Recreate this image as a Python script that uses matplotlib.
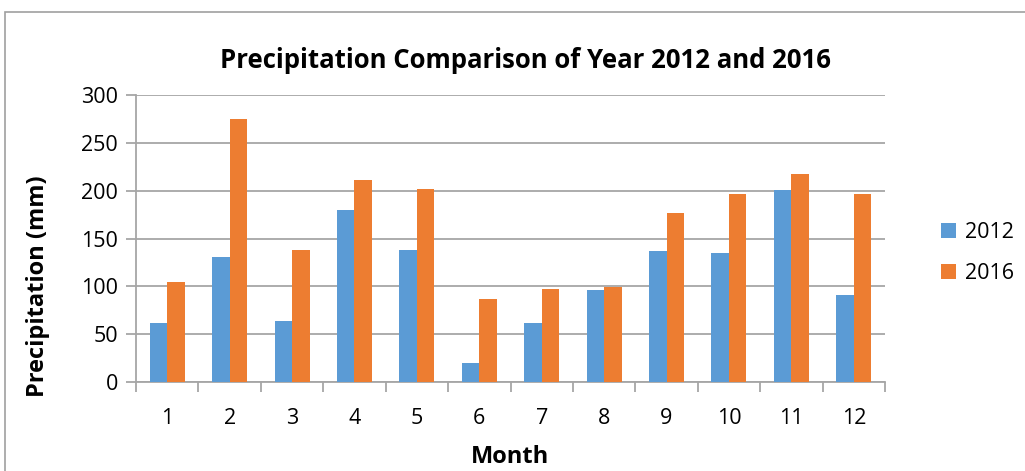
import matplotlib.pyplot as plt
import numpy as np
from matplotlib.patches import Rectangle

months = ['1', '2', '3', '4', '5', '6', '7', '8', '9', '10', '11', '12']
rain_2012 = [62, 131, 64, 180, 138, 20, 62, 96, 137, 135, 201, 91]
rain_2016 = [105, 275, 138, 211, 202, 87, 97, 99, 177, 196, 217, 197]

blue = '#5B9BD5'
orange = '#ED7D31'
grid_col = '#A6A6A6'

plt.rcParams['font.family'] = ['Open Sans', 'DejaVu Sans']

fig = plt.figure(figsize=(10.25, 4.71), dpi=100)
fig.patches.append(Rectangle((5 / 1025, -0.05), 1.2, 1 - 12 / 471 + 0.05, transform=fig.transFigure,
                             fill=False, edgecolor='#A0A0A0', linewidth=1.2))

ax = fig.add_axes([136 / 1025, 1 - 382 / 471, (885 - 136) / 1025, (382 - 95) / 471])
x = np.arange(1, 13)
w = 0.28
ax.bar(x - w / 2, rain_2012, w, color=blue, label='2012', zorder=3)
ax.bar(x + w / 2, rain_2016, w, color=orange, label='2016', zorder=3)

ax.set_xlim(0.5, 12.5)
ax.set_ylim(0, 300)
ax.set_yticks(range(0, 301, 50))
ax.set_xticks(x)
ax.set_xticklabels(months)
ax.set_xticks(np.arange(0.5, 13, 1), minor=True)
ax.tick_params(axis='x', which='major', length=0, pad=19, labelsize=15.5)
ax.tick_params(axis='x', which='minor', length=7, color=grid_col, width=1.3)
ax.tick_params(axis='y', length=7, color=grid_col, width=1.3, labelsize=15.5, pad=6)
ax.yaxis.grid(True, color=grid_col, linewidth=1.3, zorder=0)
for s in ['top', 'right']:
    ax.spines[s].set_visible(False)
for s in ['left', 'bottom']:
    ax.spines[s].set_color(grid_col)
    ax.spines[s].set_linewidth(1.3)

fig.text(525 / 1025, 1 - 60 / 471, 'Precipitation Comparison of Year 2012 and 2016',
         ha='center', va='center', fontsize=18.5, fontweight='bold')
fig.text(38 / 1025, 1 - 286 / 471, 'Precipitation (mm)', rotation=90,
         ha='center', va='center', fontsize=17, fontweight='bold')
fig.text(510 / 1025, 1 - 457 / 471, 'Month', ha='center', va='center',
         fontsize=17, fontweight='bold')

fig.legend(loc='center left', bbox_to_anchor=(922 / 1025, 1 - 253 / 471), frameon=False,
           fontsize=15.5, handlelength=0.7, handleheight=0.7, handletextpad=0.4, labelspacing=0.95)

fig.savefig('out.png', dpi=100)
